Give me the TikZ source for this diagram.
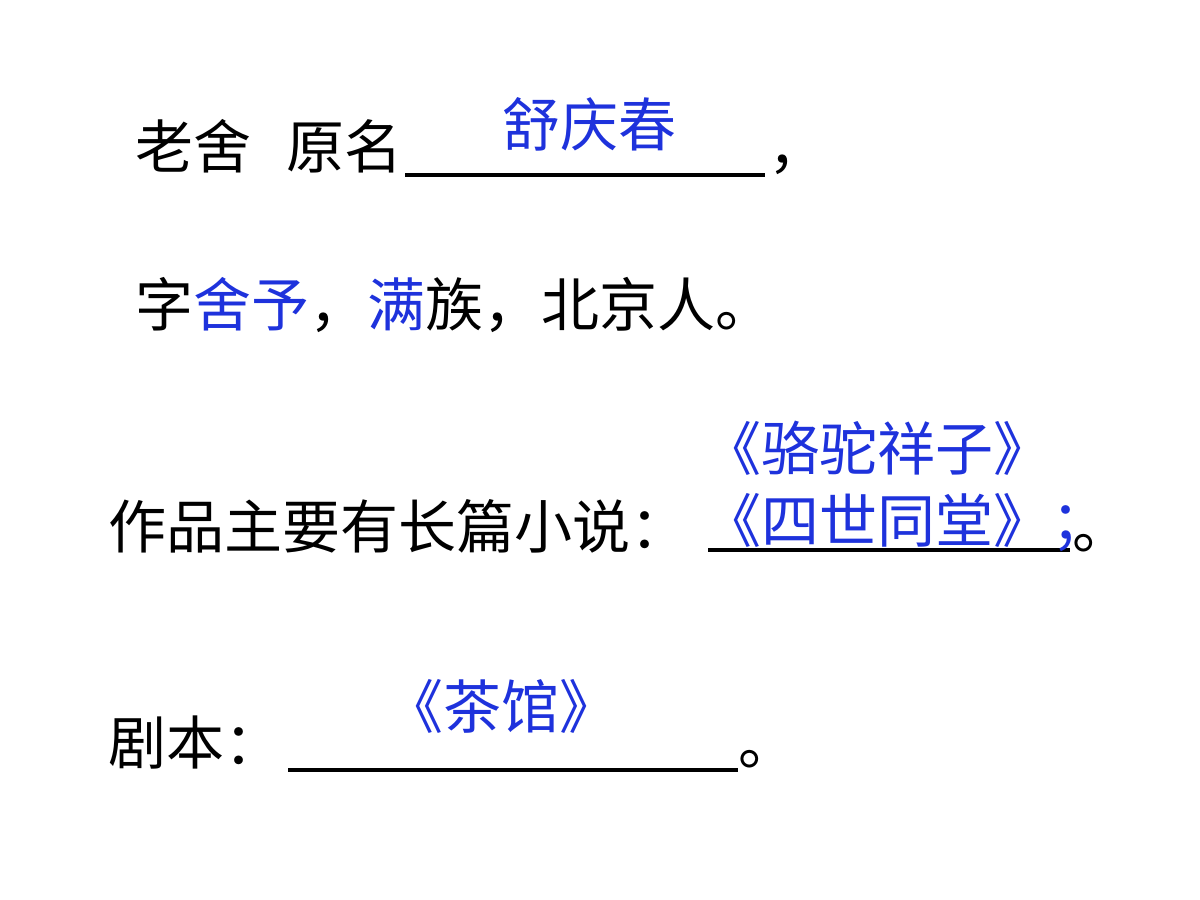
\documentclass[tikz,border=0pt]{standalone}
\usepackage{fontspec}
\newfontfamily\cjk{Noto Sans CJK SC}
\definecolor{ans}{RGB}{30,50,220}
\begin{document}
\begin{tikzpicture}[x=0.01cm,y=-0.01cm,
  txt/.style={inner sep=0,anchor=base west,font=\cjk\fontsize{16.5}{18}\selectfont},
  blue/.style={txt,text=ans},
  uline/.style={line width=1.2pt}]
\useasboundingbox (0,0) rectangle (1200,900);
\node[txt] (l1) at (135,168) {老舍};
\node[txt] (l1b) at (286,168) {原名};
\coordinate (u1a) at (405,175); \coordinate (u1b) at (765,175);
\draw[uline] (u1a) -- (u1b);
\node[txt] (c1) at (768,168) {，};
\node[blue] (a1) at (502,146) {舒庆春};
\node[txt] (l2) at (135,326) {字\textcolor{ans}{舍予}，\textcolor{ans}{满}族，北京人。};
\node[txt] (l3) at (108,548) {作品主要有长篇小说：};
\coordinate (u3a) at (708,550); \coordinate (u3b) at (1070,550);
\draw[uline] (u3a) -- (u3b);
\node[txt] (c3) at (1072,548) {。};
\node[blue] (a3a) at (703,470) {《骆驼祥子》};
\node[blue] (a3b) at (703,542) {《四世同堂》；};
\node[txt] (l4) at (108,764) {剧本：};
\coordinate (u4a) at (288,770); \coordinate (u4b) at (738,770);
\draw[uline] (u4a) -- (u4b);
\node[txt] (c4) at (738,764) {。};
\node[blue] (a4) at (385,728) {《茶馆》};
\end{tikzpicture}
\end{document}
